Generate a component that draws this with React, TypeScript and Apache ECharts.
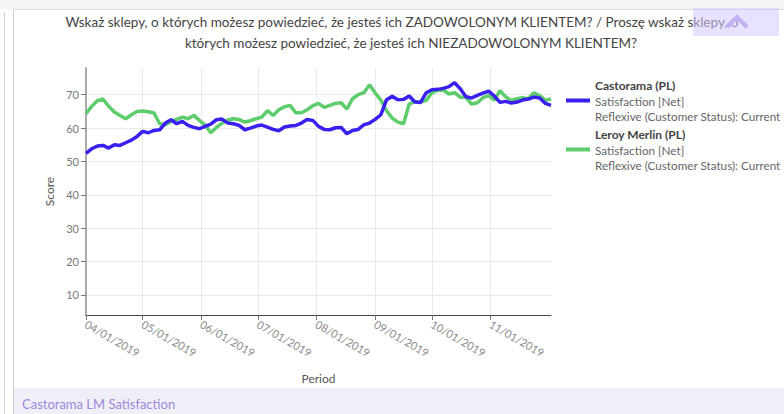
import React, { useEffect, useRef } from "react";
import * as echarts from "echarts";

const titleLines = [
  "Wskaż sklepy, o których możesz powiedzieć, że jesteś ich ZADOWOLONYM KLIENTEM? / Proszę wskaż sklepy, o",
  "których możesz powiedzieć, że jesteś ich NIEZADOWOLONYM KLIENTEM?",
];
const footerLabel = "Castorama LM Satisfaction";
const seriesNames = ["Castorama (PL)", "Leroy Merlin (PL)"];
const metricLine = "Satisfaction [Net]";
const statusLine = "Reflexive (Customer Status): Current";
const xAxisName = "Period";
const yAxisName = "Score";

const startYear = 2019;
const startMonth = 3; // April (0-based)
const startDay = 1;
const stepDays = 3;
const endDate = [2019, 11, 3];

const castorama = [
  52.4, 53.8, 54.6, 54.8, 54.0, 55.0, 54.8, 55.6, 56.4, 57.5,
  59.0, 58.6, 59.3, 59.5, 61.5, 62.5, 61.3, 62.0, 60.8, 60.2,
  59.8, 60.5, 61.2, 62.5, 62.7, 61.5, 61.3, 60.8, 59.5, 60.0,
  60.6, 60.9, 60.3, 59.6, 59.2, 60.3, 60.6, 60.8, 61.5, 62.6,
  62.3, 60.5, 59.6, 59.5, 60.1, 60.2, 58.3, 59.3, 59.6, 61.0,
  61.5, 62.6, 64.0, 68.5, 69.5, 68.5, 68.6, 69.6, 67.8, 67.7,
  70.6, 71.5, 71.6, 71.9, 72.4, 73.6, 71.8, 69.4, 69.0, 69.8,
  70.5, 71.1, 69.6, 67.7, 68.0, 67.5, 67.8, 68.4, 68.7, 69.3,
  69.0, 67.4, 66.8,
];
const leroyMerlin = [
  64.3, 66.5, 68.2, 68.7, 66.5, 64.8, 63.8, 62.8, 64.0, 65.0,
  65.1, 64.9, 64.5, 61.3, 61.0, 62.0, 62.6, 63.3, 62.8, 63.8,
  62.3, 60.9, 58.6, 60.2, 61.5, 62.4, 62.8, 62.6, 61.8, 62.2,
  62.8, 63.3, 65.2, 63.8, 65.5, 66.4, 66.8, 64.6, 64.6, 65.5,
  66.7, 67.4, 66.2, 66.8, 67.4, 67.6, 65.7, 68.8, 70.0, 70.6,
  73.0, 70.5, 68.4, 65.2, 63.0, 61.8, 61.3, 67.2, 68.0, 67.8,
  68.3, 70.6, 71.3, 71.4, 70.2, 70.6, 69.2, 69.2, 67.2, 67.6,
  69.1, 69.7, 68.4, 71.2, 69.4, 68.3, 68.8, 69.1, 68.8, 70.6,
  69.7, 68.3, 68.7,
];
const monthTickMonths = [3, 4, 5, 6, 7, 8, 9, 10];
const yTicks = [10, 20, 30, 40, 50, 60, 70];

const FONT = "Lato, 'Open Sans', sans-serif";

function pad(n: number) {
  return n < 10 ? "0" + n : "" + n;
}

export default function App() {
  const ref = useRef<HTMLDivElement>(null);

  useEffect(() => {
    if (!ref.current) return;
    const chart = echarts.init(ref.current, undefined, { renderer: "svg" });

    const dates = castorama.map((_, i) =>
      new Date(startYear, startMonth, startDay + i * stepDays).getTime()
    );
    const tickValues = monthTickMonths.map((m) => new Date(startYear, m, 1).getTime());
    const minX = new Date(startYear, startMonth, startDay).getTime();
    const maxX = new Date(endDate[0], endDate[1], endDate[2]).getTime();

    const legendFormatter = (name: string) =>
      `{b|${name}}\n{n|${metricLine}}\n{n|${statusLine}}`;

    chart.setOption({
      animation: false,
      backgroundColor: "transparent",
      textStyle: { fontFamily: FONT },
      grid: { left: 86, top: 68, width: 465, height: 247, containLabel: false },
      legend: {
        orient: "vertical",
        left: 561,
        top: 74,
        itemWidth: 24,
        itemHeight: 4,
        itemGap: 6,
        icon: "rect",
        data: seriesNames,
        formatter: legendFormatter,
        textStyle: {
          fontFamily: FONT,
          rich: {
            b: { fontWeight: "bold", color: "#444", fontSize: 12, lineHeight: 15.5, fontFamily: FONT },
            n: { color: "#666", fontSize: 11.7, lineHeight: 15.5, fontFamily: FONT },
          },
        },
      },
      xAxis: {
        type: "value",
        min: minX,
        max: maxX,
        name: xAxisName,
        nameLocation: "middle",
        nameGap: 57,
        nameTextStyle: { color: "#555", fontSize: 12, fontFamily: FONT },
        axisLine: { show: true, lineStyle: { color: "#444", width: 1 } },
        axisTick: { show: true, customValues: tickValues, length: 5, lineStyle: { color: "#777" } },
        axisLabel: {
          customValues: tickValues,
          rotate: -30,
          margin: 8,
          color: "#8a8a8a",
          fontSize: 11,
          fontFamily: FONT,
          formatter: (v: number) => {
            const d = new Date(v);
            return `${pad(d.getMonth() + 1)}/${pad(d.getDate())}/${d.getFullYear()}`;
          },
        },
        splitLine: { show: true, lineStyle: { color: "#e8e8ef", width: 1 } },
      },
      yAxis: {
        type: "value",
        min: 4,
        max: 78,
        name: yAxisName,
        nameLocation: "middle",
        nameGap: 28,
        nameTextStyle: { color: "#555", fontSize: 12, fontFamily: FONT },
        axisLine: { show: true, lineStyle: { color: "#aaa", width: 2 } },
        axisTick: { show: true, customValues: yTicks, length: 5, lineStyle: { color: "#777" } },
        axisLabel: { customValues: yTicks, color: "#777", fontSize: 11, margin: 7, fontFamily: FONT },
        splitLine: { show: true, lineStyle: { color: "#e8e8ef", width: 1 } },
      },
      series: [
        {
          name: seriesNames[0],
          type: "line",
          data: dates.map((d, i) => [d, castorama[i]]),
          showSymbol: false,
          symbol: "none",
          lineStyle: { color: "#3a20f0", width: 3.5 },
          itemStyle: { color: "#3a20f0" },
          z: 3,
        },
        {
          name: seriesNames[1],
          type: "line",
          data: dates.map((d, i) => [d, leroyMerlin[i]]),
          showSymbol: false,
          symbol: "none",
          lineStyle: { color: "#5dcc6b", width: 3.5 },
          itemStyle: { color: "#5dcc6b" },
          z: 2,
        },
      ],
      graphic: [
        {
          type: "text",
          x: 402,
          y: 15,
          style: {
            text: titleLines[0],
            fill: "#444",
            fontSize: 13.5,
            fontFamily: FONT,
            align: "center",
            verticalAlign: "top",
          },
          z: 10,
        },
        {
          type: "text",
          x: 411,
          y: 36,
          style: {
            text: titleLines[1],
            fill: "#444",
            fontSize: 13.5,
            fontFamily: FONT,
            align: "center",
            verticalAlign: "top",
          },
          z: 10,
        },
        {
          type: "text",
          x: 22,
          y: 404,
          style: {
            text: footerLabel,
            fill: "#9e88de",
            fontSize: 13,
            fontFamily: FONT,
            align: "left",
            verticalAlign: "middle",
          },
          z: 10,
        },
        {
          type: "rect",
          shape: { x: 693, y: 8, width: 86, height: 28 },
          style: { fill: "rgba(214,200,255,0.55)" },
          z: 20,
        },
        {
          type: "polyline",
          shape: { points: [[727, 27], [737, 17], [747, 27]] },
          style: { stroke: "#c3b0f3", lineWidth: 4, fill: "none" },
          z: 21,
        },
      ],
    });

    return () => chart.dispose();
  }, []);

  return (
    <div
      style={{
        position: "fixed",
        left: 0,
        top: 0,
        width: 784,
        height: 414,
        background: "#fff",
        overflow: "hidden",
      }}
    >
      <div style={{ position: "absolute", left: 0, top: 0, width: 784, height: 9, background: "#f4f4f6" }} />
      <div style={{ position: "absolute", left: 4, top: 12, width: 1, height: 402, background: "#d4d4d8" }} />
      <div
        style={{
          position: "absolute",
          left: 13,
          top: 9,
          width: 780,
          height: 420,
          borderLeft: "1px solid #cfcfd4",
          borderTop: "1px solid #dcdce0",
          boxSizing: "border-box",
        }}
      />
      <div style={{ position: "absolute", left: 14, top: 388, width: 770, height: 26, background: "#f0eef6" }} />
      <div ref={ref} style={{ position: "absolute", left: 0, top: 0, width: 784, height: 414 }} />
    </div>
  );
}
